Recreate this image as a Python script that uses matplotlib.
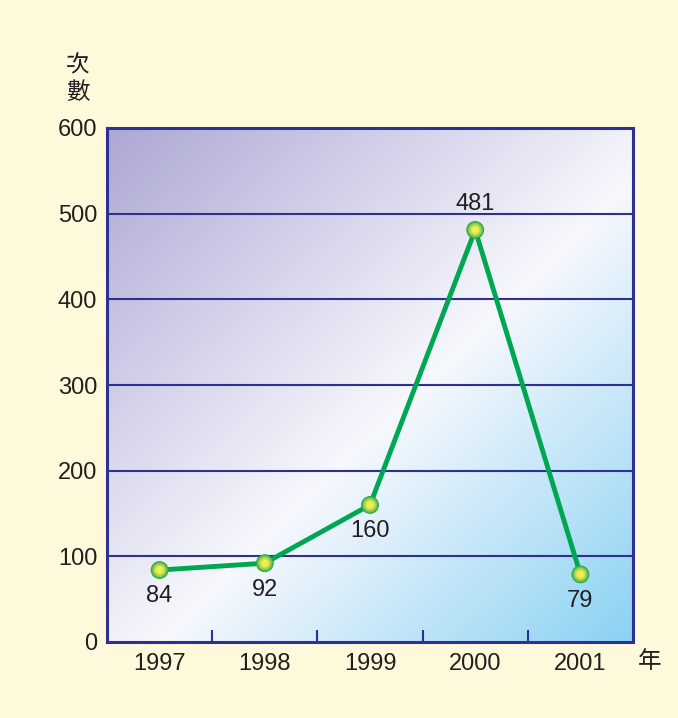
import numpy as np
import matplotlib
matplotlib.use("Agg")
import matplotlib.pyplot as plt
from matplotlib.colors import LinearSegmentedColormap, to_rgb

plt.rcParams['font.family'] = ['Liberation Sans', 'Noto Sans CJK TC', 'DejaVu Sans']

years = ['1997', '1998', '1999', '2000', '2001']
counts = [84, 92, 160, 481, 79]
label_above = [False, False, False, True, False]
y_ticks = [0, 100, 200, 300, 400, 500, 600]

bg_color = '#FEF9DA'
frame_blue = '#2E3192'
line_green = '#00A651'
text_color = '#231F20'

fig = plt.figure(figsize=(6.78, 7.18), dpi=100, facecolor=bg_color)
ax = fig.add_axes([107 / 678, 1 - 642 / 718, 526 / 678, 514 / 718])
ax.set_xlim(-0.5, len(years) - 0.5)

# diagonal gradient fill: lavender top-left -> white -> sky blue bottom-right
grad_cmap = LinearSegmentedColormap.from_list(
    'panel', [(0.0, '#ACA8D4'), (0.55, '#F7F8FD'), (1.0, '#8BD2F3')])
gx, gy = np.meshgrid(np.linspace(0, 1, 300), np.linspace(0, 1, 300))
grad = (gx + gy) / 2
ax.imshow(grad, cmap=grad_cmap, extent=(-0.5, len(years) - 0.5, 0, 600),
          origin='upper', aspect='auto', zorder=0, interpolation='bilinear')
ax.set_ylim(0, 600)

# horizontal grid
for v in y_ticks[1:-1]:
    ax.axhline(v, color=frame_blue, lw=1.5, zorder=1)

for sp in ax.spines.values():
    sp.set_color(frame_blue)
    sp.set_linewidth(2.2)
    sp.set_zorder(5)

x = np.arange(len(years))
ax.plot(x, counts, color=line_green, lw=3.5, zorder=3, solid_capstyle='round')

# shaded ball markers: concentric discs from green rim to yellow core
outer = np.array(to_rgb('#1FA54A'))
inner = np.array(to_rgb('#F0EE50'))
n_layers = 8
for k in range(n_layers):
    f = k / (n_layers - 1)
    size = 165 * (1 - 0.85 * f)
    col = outer * (1 - f) + inner * f
    ax.scatter(x, counts, s=size, color=col, edgecolors='none', zorder=4 + k * 0.01)

for xi, v, up in zip(x, counts, label_above):
    ax.annotate(str(v), (xi, v), xytext=(0, 19 if up else -19),
                textcoords='offset points', ha='center',
                va='center', fontsize=17, color=text_color, zorder=6)

ax.set_xticks(x)
ax.set_xticklabels(years)
ax.set_xticks(x[:-1] + 0.5, minor=True)
ax.set_yticks(y_ticks)
ax.tick_params(axis='x', which='major', length=0, pad=8, labelsize=17, labelcolor=text_color)
ax.tick_params(axis='x', which='minor', direction='in', length=9, width=1.5, color=frame_blue)
ax.tick_params(axis='y', length=0, pad=7, labelsize=17, labelcolor=text_color)

cjk = ['Noto Sans CJK TC']
fig.text(78 / 678, 1 - 66 / 718, '次', ha='center', va='center', fontsize=17,
         family=cjk, color=text_color)
fig.text(78 / 678, 1 - 92 / 718, '數', ha='center', va='center', fontsize=17,
         family=cjk, color=text_color)
fig.text(650 / 678, 1 - 662 / 718, '年', ha='center', va='center', fontsize=17,
         family=cjk, color=text_color)

fig.savefig('out.png', dpi=100, facecolor=bg_color)
